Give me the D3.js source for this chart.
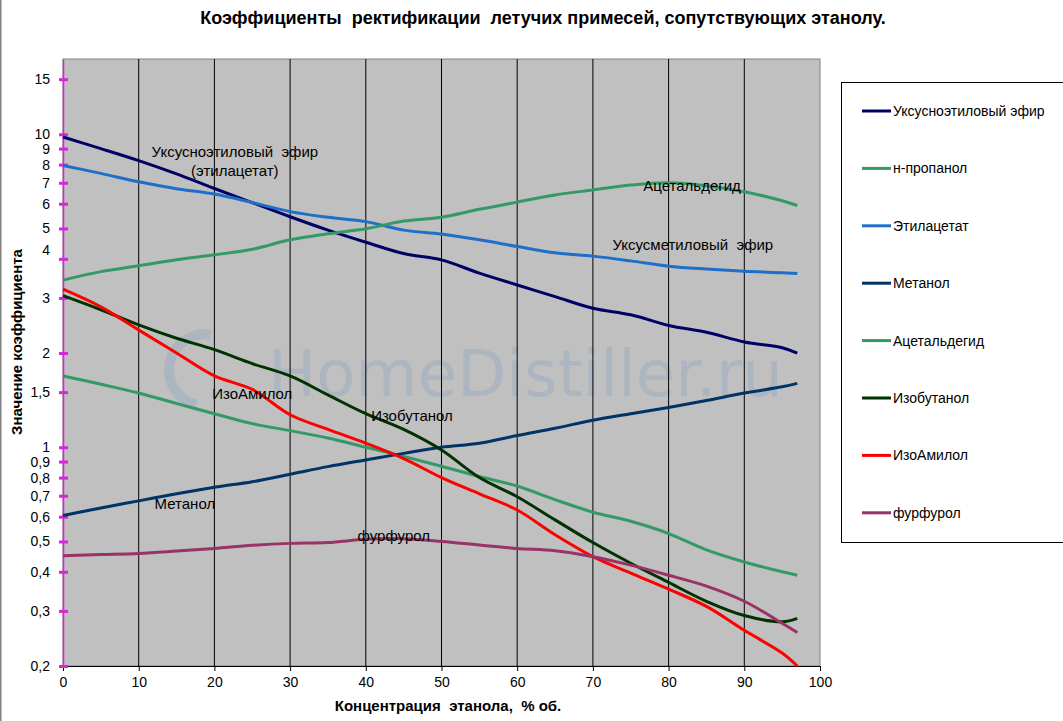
<!DOCTYPE html>
<html>
<head>
<meta charset="utf-8">
<script src="https://cdn.jsdelivr.net/npm/d3@7"></script>
<style>
  html, body { margin: 0; padding: 0; background: #fff; }
  svg { display: block; font-family: "Liberation Sans", Arial, sans-serif; }
</style>
</head>
<body>
<div id="chart"></div>
<script>
'use strict'

const width = 1063
const height = 721
const margin = {left: 63, right: 243, top: 59, bottom: 55}

// concentration of ethanol, % vol
const concentration = [0, 5, 10, 15, 20, 25, 30, 35, 40, 45, 50, 55, 60, 65, 70, 75, 80, 85, 90, 95, 97]

const ethylAcetateMain = [9.8, 9.0, 8.24, 7.47, 6.71, 6.05, 5.45, 4.94, 4.52, 4.16, 3.97, 3.6, 3.3, 3.03, 2.78, 2.65, 2.45, 2.33, 2.17, 2.08, 2.0]
const propanol = [1.69, 1.59, 1.49, 1.38, 1.28, 1.19, 1.13, 1.07, 1.0, 0.935, 0.87, 0.806, 0.752, 0.68, 0.62, 0.58, 0.53, 0.47, 0.43, 0.40, 0.39]
const ethylAcetate = [7.95, 7.5, 7.05, 6.7, 6.44, 6.05, 5.66, 5.43, 5.26, 4.94, 4.8, 4.6, 4.38, 4.18, 4.08, 3.94, 3.79, 3.71, 3.65, 3.61, 3.59]
const methanol = [0.605, 0.64, 0.674, 0.71, 0.745, 0.776, 0.82, 0.867, 0.911, 0.956, 1.0, 1.03, 1.09, 1.15, 1.22, 1.28, 1.34, 1.41, 1.49, 1.56, 1.6]
const acetaldehyde = [3.42, 3.64, 3.8, 3.97, 4.12, 4.29, 4.6, 4.81, 4.99, 5.28, 5.43, 5.76, 6.07, 6.4, 6.64, 6.88, 7.0, 6.85, 6.55, 6.13, 5.92]
const isobutanol = [3.05, 2.75, 2.46, 2.23, 2.05, 1.85, 1.69, 1.47, 1.28, 1.14, 0.98, 0.8, 0.695, 0.586, 0.496, 0.426, 0.37, 0.322, 0.29, 0.277, 0.284]
const isoamyl = [3.2, 2.81, 2.37, 2.0, 1.69, 1.53, 1.27, 1.14, 1.03, 0.92, 0.8, 0.71, 0.63, 0.525, 0.447, 0.396, 0.352, 0.31, 0.26, 0.22, 0.2]
const furfural = [0.45, 0.454, 0.458, 0.466, 0.475, 0.486, 0.493, 0.496, 0.508, 0.51, 0.5, 0.487, 0.475, 0.467, 0.447, 0.42, 0.39, 0.36, 0.322, 0.274, 0.256]

const seriesNames = ['Уксусноэтиловый эфир', 'н-пропанол', 'Этилацетат', 'Метанол', 'Ацетальдегид', 'Изобутанол', 'ИзоАмилол', 'фурфурол']
const seriesValues = [ethylAcetateMain, propanol, ethylAcetate, methanol, acetaldehyde, isobutanol, isoamyl, furfural]
const seriesColors = ['#000066', '#339966', '#1f6fc8', '#003366', '#339966', '#003300', '#ff0000', '#993366']

const xTicks = [0, 10, 20, 30, 40, 50, 60, 70, 80, 90, 100]
const yTicks = [0.2, 0.3, 0.4, 0.5, 0.6, 0.7, 0.8, 0.9, 1, 1.5, 2, 3, 4, 5, 6, 7, 8, 9, 10, 15]

// in-plot captions: [text, x, value]
const notes = [
  ['Уксусноэтиловый  эфир', 22.7, 8.78],
  ['(этилацетат)', 22.7, 7.66],
  ['Ацетальдегид', 83.1, 6.84],
  ['Уксусметиловый  эфир', 83.2, 4.46],
  ['ИзоАмилол', 25, 1.49],
  ['Изобутанол', 46.1, 1.26],
  ['Метанол', 16.1, 0.659],
  ['фурфурол', 43.7, 0.522]
]

const svg = d3.select('#chart')
  .append('svg')
    .attr('width', width)
    .attr('height', height)

const plotW = width - margin.left - margin.right
const plotH = height - margin.top - margin.bottom

const x = d3.scaleLinear()
  .domain([0, 100])
  .range([margin.left, margin.left + plotW])

const y = d3.scaleLog()
  .domain([0.2, 17.4])
  .range([margin.top + plotH, margin.top])

// page edge on the left
svg.append('line')
  .attr('x1', 0.5).attr('x2', 0.5)
  .attr('y1', 0).attr('y2', height)
  .attr('stroke', '#808080')
  .attr('stroke-width', 2)

svg.append('rect')
  .attr('x', margin.left)
  .attr('y', margin.top)
  .attr('width', plotW)
  .attr('height', plotH)
  .attr('fill', '#c0c0c0')
  .attr('stroke', '#808080')

// watermark
const wm = svg.append('g').attr('opacity', 0.42)
wm.append('path')
  .attr('d', d3.arc()({innerRadius: 31, outerRadius: 41, startAngle: -Math.PI * 0.92, endAngle: Math.PI * 0.05}))
  .attr('transform', `translate(205,370)`)
  .attr('fill', '#90aac4')
wm.append('text')
  .attr('x', 268)
  .attr('y', 396)
  .attr('font-family', 'DejaVu Sans, sans-serif')
  .attr('font-size', 64)
  .attr('fill', '#90aac4')
  .text('HomeDistiller.ru')

// vertical grid
svg.append('g')
  .selectAll('line')
  .data(xTicks.slice(1, -1))
  .join('line')
    .attr('x1', d => x(d)).attr('x2', d => x(d))
    .attr('y1', margin.top).attr('y2', margin.top + plotH)
    .attr('stroke', '#000')
    .attr('stroke-width', 1)

// x axis
const xAxis = d3.axisBottom(x)
  .tickValues(xTicks)
  .tickSize(5)
  .tickPadding(6)

const xAxisGroup = svg.append('g')
  .attr('transform', `translate(0,${margin.top + plotH})`)
  .call(xAxis)
xAxisGroup.select('.domain').attr('stroke', '#000')
xAxisGroup.selectAll('line').attr('stroke', '#000')
xAxisGroup.selectAll('text')
  .attr('font-size', 14)
  .attr('font-family', 'Liberation Sans, Arial, sans-serif')
  .attr('fill', '#000')

// y axis with magenta ticks
const yAxis = d3.axisLeft(y)
  .tickValues(yTicks)
  .tickFormat(d => String(d).replace('.', ','))
  .tickSizeInner(0)
  .tickSizeOuter(0)
  .tickPadding(13)

const yAxisGroup = svg.append('g')
  .attr('transform', `translate(${margin.left},0)`)
  .call(yAxis)
yAxisGroup.select('.domain').attr('stroke', '#e020e0').attr('stroke-width', 1.5)
yAxisGroup.selectAll('.tick').append('line')
  .attr('x1', -4).attr('x2', 5)
  .attr('stroke', '#e020e0')
  .attr('stroke-width', 3)
yAxisGroup.selectAll('text')
  .attr('font-size', 14)
  .attr('font-family', 'Liberation Sans, Arial, sans-serif')
  .attr('fill', '#000')
// the "4" label sits a little above its tick in the original
yAxisGroup.selectAll('.tick')
  .filter(d => d === 4)
  .select('text')
    .attr('y', -9)

// series
const line = d3.line()
  .x((d, i) => x(concentration[i]))
  .y(d => y(d))
  .curve(d3.curveCatmullRom.alpha(0.5))

svg.append('g')
  .selectAll('path')
  .data(seriesValues)
  .join('path')
    .attr('d', d => line(d))
    .attr('fill', 'none')
    .attr('stroke', (d, i) => seriesColors[i])
    .attr('stroke-width', 3)
    .attr('stroke-linejoin', 'round')

// captions
svg.append('g')
  .selectAll('text')
  .data(notes)
  .join('text')
    .attr('x', d => x(d[1]))
    .attr('y', d => y(d[2]))
    .attr('text-anchor', 'middle')
    .attr('dominant-baseline', 'central')
    .attr('font-size', 15)
    .attr('fill', '#000')
    .style('white-space', 'pre')
    .text(d => d[0])

// titles
svg.append('text')
  .attr('x', 543)
  .attr('y', 24)
  .attr('text-anchor', 'middle')
  .attr('font-size', 18)
  .attr('font-weight', 'bold')
  .style('white-space', 'pre')
  .text('Коэффициенты  ректификации  летучих примесей, сопутствующих этанолу.')

svg.append('text')
  .attr('x', 448)
  .attr('y', 711)
  .attr('text-anchor', 'middle')
  .attr('font-size', 15)
  .attr('font-weight', 'bold')
  .style('white-space', 'pre')
  .text('Концентрация  этанола,  % об.')

svg.append('text')
  .attr('transform', 'translate(22,342) rotate(-90)')
  .attr('text-anchor', 'middle')
  .attr('font-size', 15)
  .attr('font-weight', 'bold')
  .text('Значение коэффициента')

// legend
const legend = svg.append('g')
legend.append('rect')
  .attr('x', 841.5)
  .attr('y', 82.5)
  .attr('width', 240)
  .attr('height', 460)
  .attr('fill', '#fff')
  .attr('stroke', '#000')

const item = legend.selectAll('g.item')
  .data(seriesNames)
  .join('g')
    .attr('class', 'item')
    .attr('transform', (d, i) => `translate(862,${111 + i * 57.4})`)
item.append('line')
  .attr('x1', 0).attr('x2', 29)
  .attr('stroke', (d, i) => seriesColors[i])
  .attr('stroke-width', 3)
item.append('text')
  .attr('x', 31)
  .attr('dominant-baseline', 'central')
  .attr('font-size', 14)
  .text(d => d)
</script>
</body>
</html>
